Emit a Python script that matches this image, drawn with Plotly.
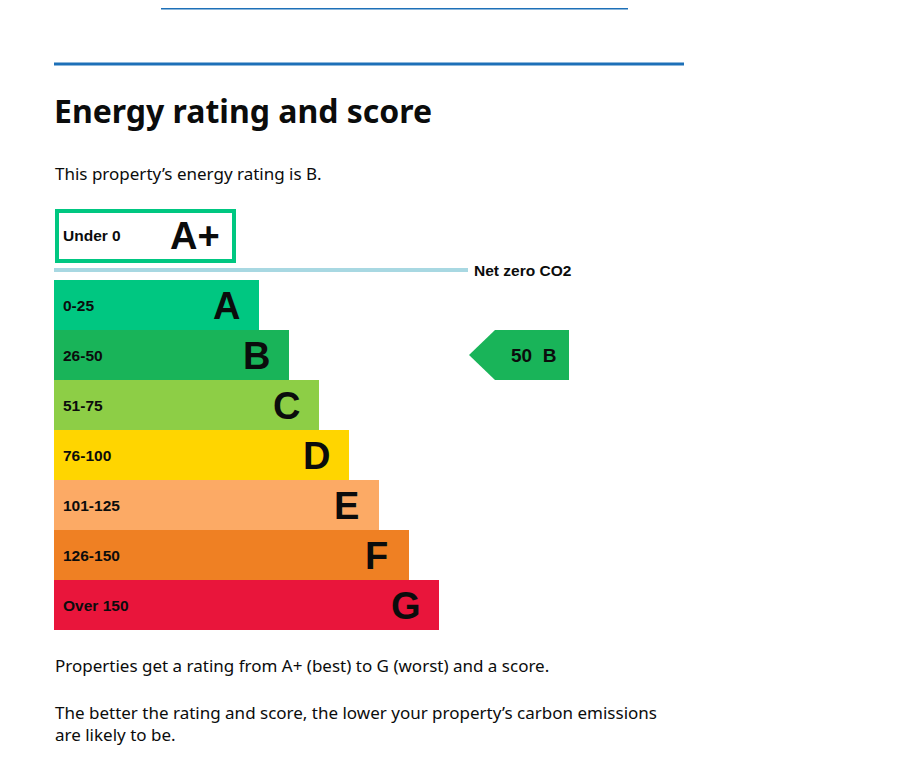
import plotly.graph_objects as go

bands = ["A", "B", "C", "D", "E", "F", "G"]
ranges = ["0-25", "26-50", "51-75", "76-100", "101-125", "126-150", "Over 150"]
colors = ["#00c781", "#19b459", "#8dce46", "#ffd500", "#fcaa65", "#ef8023", "#e9153b"]
score = 50
rating = "B"

W, H = 907, 777
OFF = 8  # page body margin compensation
left = 54
bar_h = 50
top0 = 280
bar_len = [205 + 30 * i for i in range(len(bands))]
ycent = [top0 + bar_h / 2 + bar_h * i for i in range(len(bands))]

fig = go.Figure()
fig.add_trace(go.Bar(
    orientation="h", y=ycent, x=bar_len, base=left, width=bar_h,
    marker=dict(color=colors, line=dict(width=0)), hoverinfo="skip",
    showlegend=False))

font_chart = "Liberation Sans, Arial, sans-serif"
font_page = "Noto Sans, sans-serif"
ann = []
for i, b in enumerate(bands):
    ann.append(dict(x=left + 7, y=ycent[i], text="<b>%s</b>" % ranges[i], xanchor="left",
                    showarrow=False, font=dict(family=font_chart, size=15.5, color="#0b0c0c")))
    ann.append(dict(x=left + bar_len[i] - 33, y=ycent[i] + 1, text="<b>%s</b>" % b, xanchor="center",
                    showarrow=False, font=dict(family=font_chart, size=38, color="#0b0c0c")))

bi = bands.index(rating)
py0, py1 = ycent[bi] - bar_h / 2, ycent[bi] + bar_h / 2
tip, body, end = 469, 495, 569
fig.add_trace(go.Scatter(x=[tip, body, end, end, body, tip], y=[ycent[bi], py0, py0, py1, py1, ycent[bi]],
                         fill="toself", fillcolor=colors[bi], mode="lines", line=dict(width=0),
                         hoverinfo="skip", showlegend=False))
ann.append(dict(x=533, y=ycent[bi], text="<b>%d  %s</b>" % (score, rating), showarrow=False,
                font=dict(family=font_chart, size=19, color="#0b0c0c")))

ann.append(dict(x=61, y=235, text="<b>Under 0</b>", xanchor="left", showarrow=False,
                font=dict(family=font_chart, size=15.5, color="#0b0c0c")))
ann.append(dict(x=195, y=236, text="<b>A+</b>", xanchor="center", showarrow=False,
                font=dict(family=font_chart, size=38, color="#0b0c0c")))
ann.append(dict(x=472, y=270, text="<b>Net zero CO2</b>", xanchor="left", showarrow=False,
                font=dict(family=font_chart, size=15.5, color="#0b0c0c")))

ann.append(dict(x=52, y=110, text="<b>Energy rating and score</b>", xanchor="left", showarrow=False,
                font=dict(family=font_page, size=32, color="#0b0c0c")))
ann.append(dict(x=53, y=173, text="This property’s energy rating is B.", xanchor="left", showarrow=False,
                font=dict(family=font_page, size=17, color="#0b0c0c")))
ann.append(dict(x=53, y=665, text="Properties get a rating from A+ (best) to G (worst) and a score.", xanchor="left",
                showarrow=False, font=dict(family=font_page, size=17, color="#0b0c0c")))
ann.append(dict(x=53, y=723, text="The better the rating and score, the lower your property’s carbon emissions<br>are likely to be.",
                xanchor="left", align="left", showarrow=False, font=dict(family=font_page, size=17, color="#0b0c0c")))

shapes = [
    dict(type="line", x0=161, x1=628, y0=OFF + 0.5, y1=OFF + 0.5, line=dict(color="#1d70b8", width=2)),
    dict(type="line", x0=54, x1=684, y0=64, y1=64, line=dict(color="#1d70b8", width=3)),
    dict(type="rect", x0=57, x1=234, y0=211, y1=261, line=dict(color="#00c781", width=4)),
    dict(type="line", x0=54, x1=468, y0=270, y1=270, line=dict(color="#a8d8e2", width=4)),
]

fig.update_layout(
    width=W, height=H, margin=dict(l=0, r=0, t=0, b=0),
    paper_bgcolor="white", plot_bgcolor="white", bargap=0,
    xaxis=dict(range=[OFF, W + OFF], visible=False, fixedrange=True),
    yaxis=dict(range=[H + OFF, OFF], visible=False, fixedrange=True),
    annotations=ann, shapes=shapes,
)
fig.write_html("out.html")
